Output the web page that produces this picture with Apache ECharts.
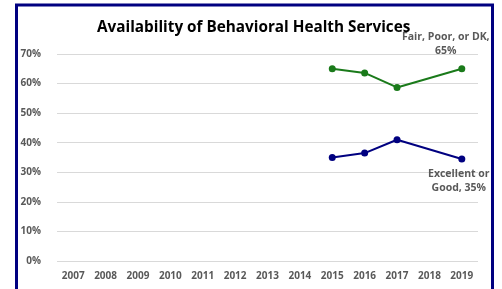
<!DOCTYPE html>
<html>
<head>
<meta charset="utf-8">
<script src="https://cdn.jsdelivr.net/npm/echarts@6/dist/echarts.min.js"></script>
<style>
  html, body { margin:0; padding:0; background:#fff; }
  #main { width:502px; height:289px; }
</style>
</head>
<body>
<div id="main"></div>
<script>
var years = ['2007','2008','2009','2010','2011','2012','2013','2014','2015','2016','2017','2018','2019'];
var fairPoor = [null, null, null, null, null, null, null, null, 65, 63.6, 58.7, null, 65];
var excellentGood = [null, null, null, null, null, null, null, null, 35, 36.5, 41, null, 34.5];
var fairLabel = 'Fair, Poor, or DK,\n65%';
var goodLabel = 'Excellent or\nGood, 35%';

var myChart = echarts.init(document.getElementById('main'));

// label only on the last point of each series
function withLastLabel(values, text, pos, offset) {
  return values.map(function (v, i) {
    if (i !== values.length - 1) return v;
    return {
      value: v,
      label: {
        show: true, position: pos, offset: offset, formatter: text,
        color: '#595959', fontSize: 10.5, fontWeight: 'bold',
        fontFamily: 'Open Sans', lineHeight: 14, align: 'center'
      }
    };
  });
}

var option = {
  animation: false,
  title: {
    text: 'Availability of Behavioral Health Services',
    left: 92, top: 15,
    textStyle: { fontFamily: 'Open Sans', fontSize: 15.3, fontWeight: 'bold', color: '#000' }
  },
  graphic: [{
    type: 'rect',
    shape: { x: 16.5, y: 5, width: 476, height: 300 },
    style: { fill: 'none', stroke: '#000080', lineWidth: 3 }
  }],
  grid: { left: 57, right: 24, top: 54, bottom: 28 },
  xAxis: {
    type: 'category',
    data: years,
    boundaryGap: true,
    axisLine: { show: false },
    axisTick: { show: false },
    axisLabel: { color: '#595959', fontSize: 10, fontWeight: 'bold', fontFamily: 'Open Sans', margin: 10 }
  },
  yAxis: {
    type: 'value',
    min: 0, max: 70, interval: 10,
    axisLine: { show: false },
    axisTick: { show: false },
    axisLabel: { formatter: '{value}%', color: '#595959', fontSize: 10, fontWeight: 'bold', fontFamily: 'Open Sans', margin: 16 },
    splitLine: { lineStyle: { color: '#d9d9d9', width: 1 } }
  },
  series: [
    {
      name: 'Fair, Poor, or DK',
      type: 'line',
      data: withLastLabel(fairPoor, fairLabel, 'top', [-16, -2]),
      connectNulls: true,
      symbol: 'circle', symbolSize: 7,
      lineStyle: { color: '#1a7a1a', width: 2 },
      itemStyle: { color: '#1a7a1a' }
    },
    {
      name: 'Excellent or Good',
      type: 'line',
      data: withLastLabel(excellentGood, goodLabel, 'bottom', [-3, 0]),
      connectNulls: true,
      symbol: 'circle', symbolSize: 7,
      lineStyle: { color: '#000080', width: 2 },
      itemStyle: { color: '#000080' }
    }
  ]
};
myChart.setOption(option);
</script>
</body>
</html>
